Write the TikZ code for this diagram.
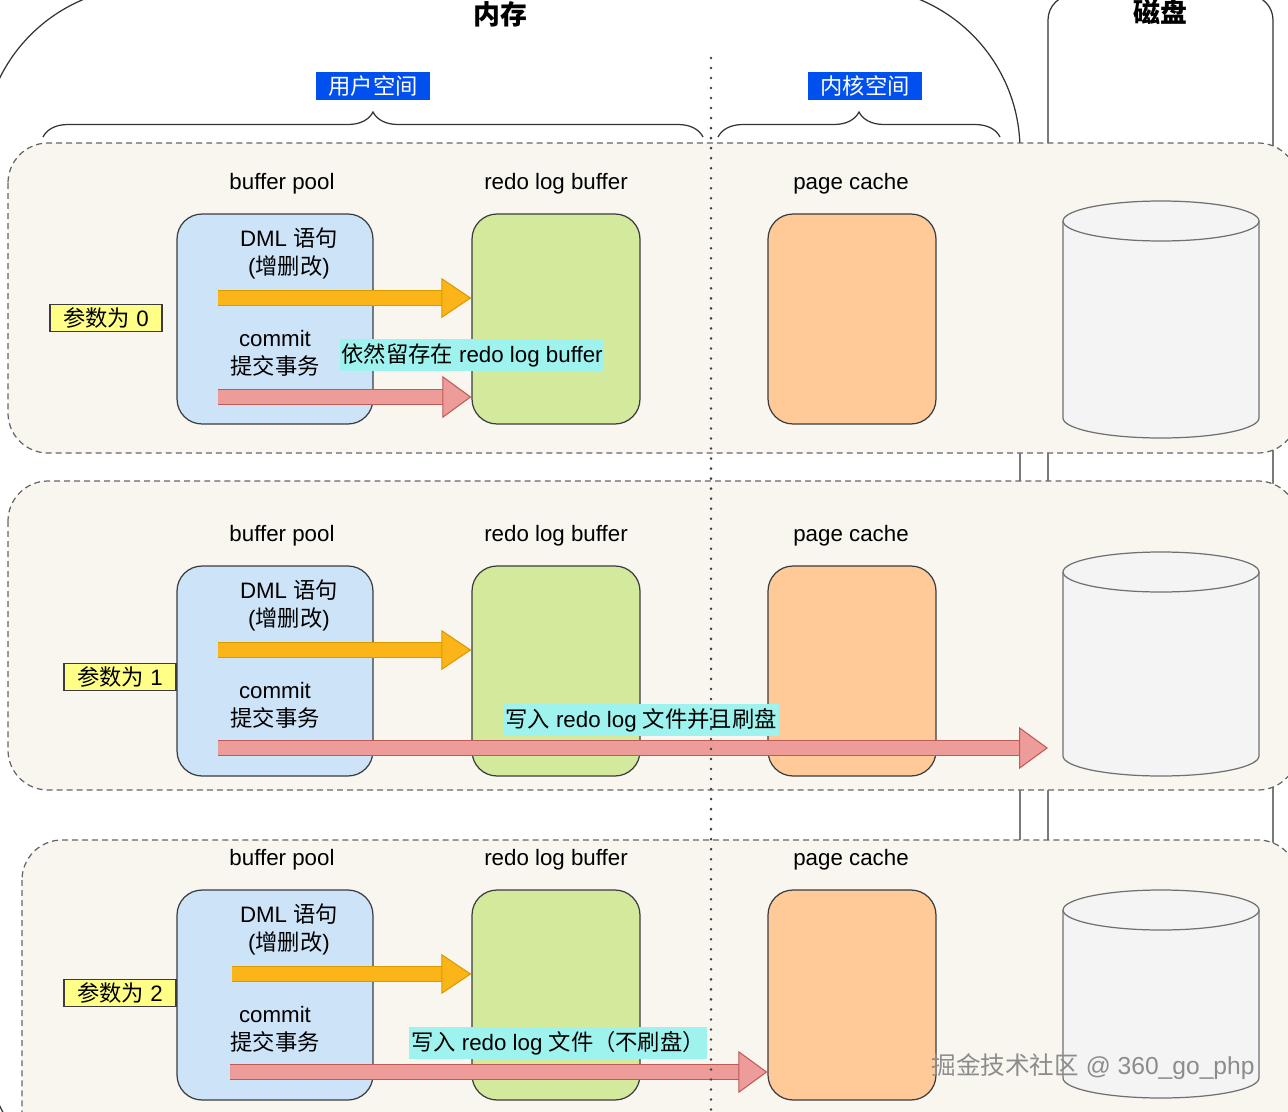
\documentclass[tikz,border=0pt]{standalone}
\usepackage{fontspec}
\setmainfont{Liberation Sans}
\newfontfamily\cjk{Noto Sans CJK SC}
\usepackage{tikz}
\usetikzlibrary{
  arrows.meta,
  decorations.pathreplacing}

\definecolor{panelbg}{HTML}{F8F6EF}
\definecolor{bpblue}{HTML}{CCE3F8}
\definecolor{rlbgreen}{HTML}{D3EA9C}
\definecolor{pcorange}{HTML}{FFCA98}
\definecolor{diskfill}{HTML}{F4F4F4}
\definecolor{diskline}{HTML}{707070}
\definecolor{boxline}{HTML}{3A3C40}
\definecolor{paramyellow}{HTML}{FFFF88}
\definecolor{hlcyan}{HTML}{9FF3EF}
\definecolor{lblblue}{HTML}{0050EF}
\definecolor{arrY}{HTML}{FBB518}
\definecolor{arrYd}{HTML}{D99A00}
\definecolor{arrR}{HTML}{EE9C9A}
\definecolor{arrRd}{HTML}{BE5B57}

\begin{document}
\begin{tikzpicture}[x=0.02cm, y=-0.02cm,
  every node/.style={font=\fontsize{12.7}{16}\selectfont},
  outline/.style={draw=black!80, line width=0.7pt},
  panel/.style={draw=black!60, fill=panelbg, line width=0.7pt,
    dash pattern=on 3.4pt off 2.3pt, rounded corners=0.8cm},
  blk/.style={draw=boxline, line width=0.7pt, rounded corners=0.5cm,
    minimum height=4.2cm, inner sep=0pt},
  spacelbl/.style={fill=lblblue, text=white, minimum width=2.28cm,
    minimum height=0.58cm, inner sep=0pt},
  param/.style={draw=boxline, fill=paramyellow, line width=0.6pt,
    minimum width=2.24cm, minimum height=0.54cm, inner sep=0pt},
  hl/.style={fill=hlcyan, inner xsep=1pt, inner ysep=2.5pt},
  brc/.style={decorate, decoration={brace, amplitude=0.5cm},
    draw=black!80, line width=0.7pt},
  dotline/.style={draw=black!75, line width=1.6pt, line cap=round,
    dash pattern=on 0pt off 5.7pt},
  disk/.style={draw=diskline, fill=diskfill, line width=0.7pt},
  yarrow/.style={draw=arrY, line width=0.28cm,
    -{Triangle[width=0.8cm, length=0.6cm, fill=arrY, color=arrYd, line width=0.6pt]},
    preaction={draw=arrYd, line width=0.28cm+1.2pt, shorten >=0.55cm, -}},
  rarrow/.style={draw=arrR, line width=0.28cm,
    -{Triangle[width=0.84cm, length=0.58cm, fill=arrR, color=arrRd, line width=0.6pt]},
    preaction={draw=arrRd, line width=0.28cm+1.2pt, shorten >=0.53cm, -}}]

\useasboundingbox (0,0) rectangle (1288,1112);
\fill[white] (0,0) rectangle (1288,1112);
\clip (0,0) rectangle (1288,1112);

\draw[outline, rounded corners=3.26cm] (-17,-13) rectangle (1020,1197);
\draw[outline, rounded corners=0.5cm] (1048,-5) rectangle (1273,1240);

\node[font=\fontsize{15.3}{18}\selectfont\cjk\bfseries] (mem) at (500,14) {内存};
\node[font=\fontsize{15.3}{18}\selectfont\cjk\bfseries] (hdd) at (1160,12) {磁盘};

\node[spacelbl] (user) at (373,86) {\cjk 用户空间};
\node[spacelbl] (kern) at (865,86) {\cjk 内核空间};
\draw[brc] (43,137) -- (703,137);
\draw[brc] (718,137) -- (1000,137);

\draw[panel] (8,143) rectangle (1298,453);
\draw[panel] (8,481) rectangle (1298,790);
\draw[panel] (22,840) rectangle (1298,1160);

\foreach \i/\k/\dy/\px/\py/\ys/\dt/\db in
  {1/0/0/106/318/218/221/418, 2/1/352/120/677/218/572/756,
   3/2/676/120/993/232/910/1078} {
  \node (lbp\i) at (282,184+\dy) {buffer pool};
  \node (lrlb\i) at (556,184+\dy) {redo log buffer};
  \node (lpc\i) at (851,184+\dy) {page cache};
  \node[blk, fill=bpblue, minimum width=3.92cm] (bp\i) at (275,319+\dy) {};
  \node[blk, fill=rlbgreen, minimum width=3.36cm] (rlb\i) at (556,319+\dy) {};
  \node[blk, fill=pcorange, minimum width=3.36cm] (pc\i) at (852,319+\dy) {};
  \filldraw[disk] (1063,\dt) -- (1063,\db)
    arc[start angle=180, end angle=360, x radius=1.96cm, y radius=0.4cm]
    -- (1259,\dt);
  \filldraw[disk] (1161,\dt) ellipse[x radius=1.96cm, y radius=0.4cm];
  \node[align=center] (dml\i) at (289,253+\dy) {DML {\cjk 语句}\\({\cjk 增删改})};
  \node[align=center] (cmt\i) at (275,353+\dy) {commit\\{\cjk 提交事务}};
  \node[param] (par\i) at (\px,\py) {{\cjk 参数为} \k};
  \coordinate (ys\i) at (\ys,298+\dy);
  \draw[yarrow] (ys\i) -- (ys\i -| rlb\i.west);
}

\node[hl] (hl1) at (472,355) {{\cjk 依然留存在} redo log buffer};
\coordinate (rs1) at (218,397);
\draw[rarrow] (rs1) -- (rs1 -| rlb1.west);

\node[hl] (hl2) at (641,720) {{\cjk 写入} redo log {\cjk 文件并且刷盘}};
\coordinate (rs2) at (218,748);
\coordinate (re2) at (1048,748);
\draw[rarrow] (rs2) -- (re2);

\node[hl] (hl3) at (558,1043) {{\cjk 写入} redo log {\cjk 文件（不刷盘）}};
\coordinate (rs3) at (230,1072);
\draw[rarrow] (rs3) -- (rs3 -| pc3.west);

\draw[dotline] (711,58) -- (711,1112);

\node[text=black!45, font=\fontsize{14}{16}\selectfont] (wm) at (1093,1067)
  {{\cjk 掘金技术社区} @ 360\_go\_php};
\end{tikzpicture}
\end{document}
